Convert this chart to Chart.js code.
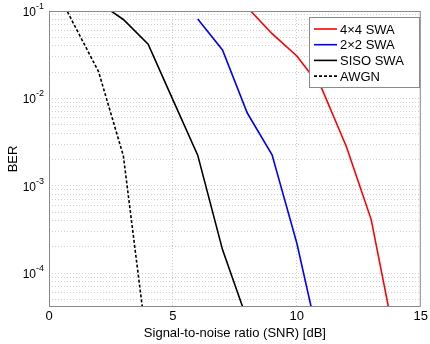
<!DOCTYPE html>
<html>
<head>
<meta charset="utf-8">
<script src="https://cdn.jsdelivr.net/npm/chart.js@4.4.0/dist/chart.umd.min.js"></script>
<style>
  html, body { margin: 0; padding: 0; background: #fff; }
  #wrap { width: 430px; height: 344px; }
</style>
</head>
<body>
<div id="wrap"><canvas id="ber-chart"></canvas></div>
<script>
// BER curves (SNR in dB)
const snr4x4 = [8, 9, 10, 11, 12, 13, 14];
const ber4x4 = [0.11, 0.055, 0.0306, 0.0131, 0.0028, 4.1e-4, 1.5e-5];
const snr2x2 = [6, 7, 8, 9, 10, 11];
const ber2x2 = [0.081, 0.0358, 0.0068, 0.00226, 2.2e-4, 1.2e-5];
const snrSiso = [2, 3, 4, 5, 6, 7, 8];
const berSiso = [0.125, 0.08, 0.0416, 0.0096, 0.00224, 1.86e-4, 2.9e-5];
const snrAwgn = [0, 1, 2, 3, 4];
const berAwgn = [0.25, 0.071, 0.0202, 0.0022, 1.2e-5];

const seriesLabels = ['4\u00d74 SWA', '2\u00d72 SWA', 'SISO SWA', 'AWGN'];
const xTicks = [0, 5, 10, 15];
const yDecades = [1e-4, 1e-3, 1e-2, 1e-1];
const yMin = 4.1e-5;
const yMax = 0.1;

const FONT = "'Liberation Sans', Arial, sans-serif";

function toPoints(xs, ys) {
    return xs.map((x, i) => ({ x: x, y: ys[i] }));
}

// box around the axes + y labels as 10^n
const axesBox = {
    id: 'axesBox',
    afterDraw(chart) {
        const { ctx, chartArea } = chart;
        const yScale = chart.scales.y;
        ctx.save();
        ctx.strokeStyle = '#8a8a8a';
        ctx.lineWidth = 1;
        ctx.strokeRect(chartArea.left + 0.5, chartArea.top + 0.5,
            chartArea.right - chartArea.left - 1, chartArea.bottom - chartArea.top - 1);

        ctx.fillStyle = '#000';
        yDecades.forEach(d => {
            const y = yScale.getPixelForValue(d);
            const exp = Math.round(Math.log10(d));
            ctx.font = '12px ' + FONT;
            ctx.textAlign = 'right';
            ctx.textBaseline = 'alphabetic';
            ctx.fillText('10', 36, y + 5);
            ctx.font = '9px ' + FONT;
            ctx.textAlign = 'left';
            ctx.fillText(String(exp), 36, y - 2);
        });
        ctx.restore();
    }
};

// MATLAB-style legend box in the upper right corner
const legendBox = {
    id: 'legendBox',
    afterDraw(chart) {
        const { ctx, chartArea } = chart;
        const w = 110, h = 70, rowH = 15.7;
        const x0 = Math.round(chartArea.right - 2 - w);
        const y0 = Math.round(chartArea.top + 6);
        ctx.save();
        ctx.fillStyle = '#fff';
        ctx.fillRect(x0, y0, w, h);
        ctx.strokeStyle = '#8a8a8a';
        ctx.lineWidth = 1;
        ctx.strokeRect(x0 + 0.5, y0 + 0.5, w, h);
        ctx.font = '13px ' + FONT;
        ctx.textAlign = 'left';
        ctx.textBaseline = 'middle';
        chart.data.datasets.forEach((ds, i) => {
            const y = y0 + 12 + i * rowH;
            ctx.strokeStyle = ds.borderColor;
            ctx.lineWidth = ds.borderWidth;
            ctx.setLineDash(ds.borderDash || []);
            ctx.beginPath();
            ctx.moveTo(x0 + 5, y);
            ctx.lineTo(x0 + 28, y);
            ctx.stroke();
            ctx.setLineDash([]);
            ctx.fillStyle = '#000';
            ctx.fillText(ds.label, x0 + 31, y + 1);
        });
        ctx.restore();
    }
};

const ctx = document.getElementById('ber-chart').getContext('2d');
const berChart = new Chart(ctx, {
    type: 'line',
    data: {
        datasets: [
            { label: seriesLabels[0], data: toPoints(snr4x4, ber4x4), borderColor: '#ff0000', borderWidth: 1.6 },
            { label: seriesLabels[1], data: toPoints(snr2x2, ber2x2), borderColor: '#0000ff', borderWidth: 1.6 },
            { label: seriesLabels[2], data: toPoints(snrSiso, berSiso), borderColor: '#000000', borderWidth: 1.6 },
            { label: seriesLabels[3], data: toPoints(snrAwgn, berAwgn), borderColor: '#000000', borderWidth: 1.6, borderDash: [3, 2] }
        ]
    },
    options: {
        responsive: true,
        maintainAspectRatio: false,
        animation: false,
        layout: { padding: { top: 11, right: 7, left: 0, bottom: 0 } },
        elements: {
            point: { radius: 0 },
            line: { tension: 0, fill: false }
        },
        datasets: { line: { clip: 0 } },
        plugins: {
            legend: { display: false },
            tooltip: { enabled: false }
        },
        scales: {
            x: {
                type: 'linear',
                min: 0,
                max: 15,
                afterBuildTicks: scale => {
                    scale.ticks = xTicks.map(v => ({ value: v }));
                },
                afterFit: scale => { scale.height = 37; },
                ticks: {
                    color: '#000',
                    padding: 2,
                    maxRotation: 0,
                    font: { family: FONT, size: 13 }
                },
                grid: { color: '#cfcfcf', lineWidth: 1, drawTicks: false },
                border: { display: false, dash: [1, 2] },
                title: {
                    display: true,
                    text: 'Signal-to-noise ratio (SNR) [dB]',
                    color: '#000',
                    font: { family: FONT, size: 13 },
                    padding: { top: 0, bottom: 3 }
                }
            },
            y: {
                type: 'logarithmic',
                min: yMin,
                max: yMax,
                afterBuildTicks: scale => {
                    const ticks = [];
                    for (let e = -5; e <= -1; e++) {
                        for (let m = 1; m <= 9; m++) {
                            const v = m * Math.pow(10, e);
                            if (v >= yMin && v <= yMax * 1.0001) ticks.push({ value: v });
                        }
                    }
                    scale.ticks = ticks;
                },
                afterFit: scale => { scale.width = 49; },
                ticks: { display: false, autoSkip: false },
                grid: { color: '#cfcfcf', lineWidth: 1, drawTicks: false },
                border: { display: false, dash: [1, 2] },
                title: {
                    display: true,
                    text: 'BER',
                    color: '#000',
                    font: { family: FONT, size: 13 },
                    padding: { top: 6, bottom: 0 }
                }
            }
        }
    },
    plugins: [axesBox, legendBox]
});
</script>
</body>
</html>
